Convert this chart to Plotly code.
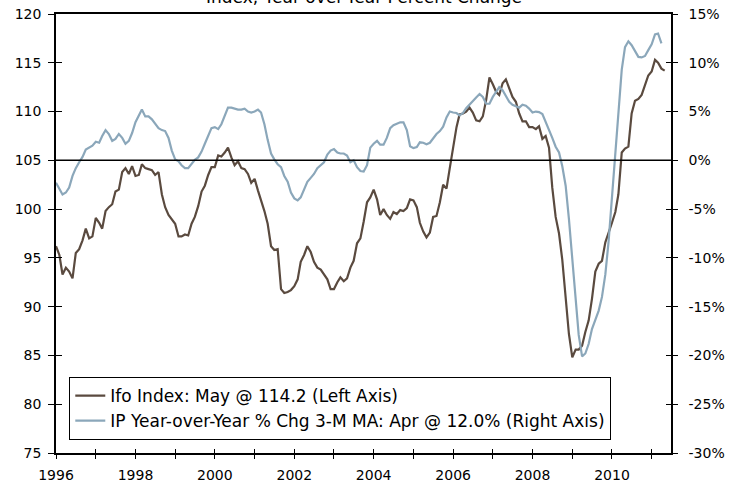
import pandas as pd
import plotly.graph_objects as go

# Monthly series, Jan 1996 onwards
ifo_index = [
    96.2, 95.3, 93.3, 94.0, 93.6, 92.9, 95.5, 95.9, 96.8, 98.0, 97.0, 97.2,   # 1996
    99.1, 98.6, 98.0, 99.8, 100.2, 100.5, 101.8, 102.0, 103.8, 104.2, 103.6, 104.4,  # 1997
    103.4, 103.5, 104.6, 104.2, 104.1, 104.0, 103.5, 103.8, 101.5, 100.2, 99.4, 99.0,  # 1998
    98.5, 97.2, 97.2, 97.4, 97.3, 98.5, 99.2, 100.3, 101.8, 102.4, 103.5, 104.3,  # 1999
    104.3, 105.5, 105.4, 105.8, 106.3, 105.3, 104.5, 104.9, 104.2, 104.1, 103.6, 102.7,  # 2000
    103.1, 101.9, 101.0, 99.8, 98.5, 96.2, 95.8, 95.9, 91.8, 91.4, 91.5, 91.7,  # 2001
    92.1, 92.8, 94.6, 95.3, 96.2, 95.6, 94.6, 94.0, 93.8, 93.3, 92.8, 91.8,  # 2002
    91.8, 92.5, 93.0, 92.6, 92.9, 94.0, 94.7, 96.5, 97.0, 98.7, 100.7, 101.2,  # 2003
    102.0, 101.0, 99.4, 100.0, 99.4, 99.0, 99.7, 99.5, 99.9, 99.8, 100.1, 101.0,  # 2004
    100.9, 100.2, 98.6, 97.7, 97.1, 97.6, 99.2, 99.3, 100.7, 102.5, 102.1, 104.2,  # 2005
    106.4, 108.4, 109.7, 109.8, 110.0, 110.4, 109.9, 109.1, 109.0, 109.5, 111.2, 113.5,  # 2006
    112.8, 112.0, 111.7, 112.9, 113.3, 112.3, 111.5, 111.0, 109.8, 109.0, 109.0, 108.4,  # 2007
    108.4, 108.2, 108.5, 107.2, 107.5, 106.3, 102.2, 99.2, 97.5, 94.8, 90.8, 87.2,  # 2008
    84.8, 85.6, 85.6, 86.0, 87.4, 88.6, 90.8, 93.6, 94.4, 94.7, 96.6, 97.5,  # 2009
    98.6, 99.7, 101.5, 105.8, 106.2, 106.4, 109.8, 111.1, 111.3, 111.7, 112.8, 113.7,  # 2010
    114.1, 115.3, 115.0, 114.4, 114.2,  # 2011
]

ip_yoy_3mma = [
    -2.3, -3.0, -3.5, -3.3, -2.8, -1.6, -0.8, -0.2, 0.35, 1.1, 1.35, 1.5,  # 1996
    1.9, 1.8, 2.5, 3.1, 2.7, 2.0, 2.2, 2.7, 2.3, 1.7, 2.0, 2.8,  # 1997
    3.9, 4.6, 5.2, 4.5, 4.5, 4.2, 3.8, 3.3, 3.1, 3.0, 2.3, 1.0,  # 1998
    0.1, -0.1, -0.5, -0.8, -0.8, -0.3, 0.05, 0.3, 0.9, 1.7, 2.6, 3.3,  # 1999
    3.4, 3.2, 3.7, 4.6, 5.4, 5.4, 5.3, 5.2, 5.2, 5.3, 5.0, 4.9,  # 2000
    5.0, 5.2, 4.9, 3.7, 2.1, 0.7, 0.1, -0.4, -0.7, -1.6, -2.2, -3.3,  # 2001
    -3.9, -4.1, -3.8, -2.9, -2.2, -1.8, -1.4, -0.8, -0.5, -0.2, 0.6, 1.0,  # 2002
    1.15, 0.8, 0.7, 0.7, 0.5, -0.2, 0.0, -0.7, -1.1, -1.15, -0.5, 1.3,  # 2003
    1.7, 2.0, 1.6, 1.6, 2.3, 3.3, 3.6, 3.75, 3.9, 3.9, 3.1, 1.45,  # 2004
    1.25, 1.35, 1.85, 1.8, 1.65, 1.8, 2.25, 2.7, 3.0, 3.45, 4.4, 5.0,  # 2005
    4.9, 4.85, 4.6, 4.85, 5.35, 5.75, 6.1, 6.45, 6.8, 6.5, 5.8, 5.8,  # 2006
    6.5, 7.1, 7.5, 7.2, 6.6, 6.0, 5.7, 5.55, 5.4, 5.7, 5.6, 5.3,  # 2007
    4.9, 5.0, 4.95, 4.75, 4.0, 3.2, 2.3, 1.4, 0.8, -0.6, -2.6, -6.0,  # 2008
    -10.0, -14.2, -17.9, -20.1, -19.8, -18.8, -17.3, -16.35, -15.4, -14.0, -11.7, -8.3,  # 2009
    -3.9, 0.3, 5.0, 9.3, 11.6, 12.2, 11.8, 11.2, 10.6, 10.55, 10.7, 11.3,  # 2010
    11.9, 12.9, 13.0, 12.0,  # 2011
]

ifo_dates = pd.date_range("1996-01-01", periods=len(ifo_index), freq="MS")
ip_dates = pd.date_range("1996-01-01", periods=len(ip_yoy_3mma), freq="MS")

left_ticks = [75, 80, 85, 90, 95, 100, 105, 110, 115, 120]
right_ticks = [-30, -25, -20, -15, -10, -5, 0, 5, 10, 15]
right_tick_labels = ["-30%", "-25%", "-20%", "-15%", "-10%", "-5%", "0%", "5%", "10%", "15%"]
year_ticks = [1996, 1997, 1998, 1999, 2000, 2001, 2002, 2003, 2004, 2005,
              2006, 2007, 2008, 2009, 2010, 2011]
year_labels = [str(y) if y % 2 == 0 else "" for y in year_ticks]
year_tick_dates = [f"{y}-01-01" for y in year_ticks]

baseline_index = 105

X_RANGE = ["1996-01-01", "2011-06-28"]
LEFT_RANGE = [75, 120]
RIGHT_RANGE = [-30, 15]

FONT = "DejaVu Sans"
BROWN = "#5a4a3f"
STEEL = "#8ba7ba"

fig = go.Figure()

fig.add_trace(go.Scatter(
    x=ifo_dates, y=ifo_index, mode="lines",
    name="Ifo Index: May @ 114.2 (Left Axis)",
    line=dict(color=BROWN, width=2.2),
    xaxis="x", yaxis="y",
))
fig.add_trace(go.Scatter(
    x=ip_dates, y=ip_yoy_3mma, mode="lines",
    name="IP Year-over-Year % Chg 3-M MA: Apr @ 12.0% (Right Axis)",
    line=dict(color=STEEL, width=2.2),
    xaxis="x", yaxis="y2",
))

# Reference line at the index baseline (0% on the right scale)
fig.add_hline(y=baseline_index, line=dict(color="black", width=1.5), layer="above")

tick_font = dict(family=FONT, size=14, color="black")

fig.update_layout(
    width=743, height=483,
    margin=dict(l=56, r=72, t=14, b=30, autoexpand=False),
    paper_bgcolor="white", plot_bgcolor="white",
    font=dict(family=FONT, size=14, color="black"),
    showlegend=True,
    legend=dict(
        x=0.0216, y=0.0296, xanchor="left", yanchor="bottom",
        bgcolor="white", bordercolor="black", borderwidth=1,
        font=dict(family=FONT, size=17, color="black"),
        tracegroupgap=0, itemwidth=30,
    ),
    xaxis=dict(
        type="date", range=X_RANGE, automargin=False,
        tickmode="array", tickvals=year_tick_dates, ticktext=year_labels,
        ticks="outside", ticklen=4, tickwidth=1, tickcolor="black",
        showline=True, linecolor="black", linewidth=1.5, mirror=True,
        showgrid=False, zeroline=False, tickfont=tick_font,
        ticklabelstandoff=4,
    ),
    xaxis2=dict(
        type="date", range=X_RANGE, overlaying="x", anchor="y", automargin=False,
        tickmode="array", tickvals=year_tick_dates,
        ticks="inside", ticklen=4, tickwidth=1, tickcolor="black",
        showticklabels=False, showline=False, showgrid=False, zeroline=False,
    ),
    yaxis=dict(
        range=LEFT_RANGE, tickmode="array", tickvals=left_ticks, automargin=False,
        ticks="outside", ticklen=6, tickwidth=1, tickcolor="black",
        showline=True, linecolor="black", linewidth=1.5,
        showgrid=False, zeroline=False, tickfont=tick_font,
        ticklabelstandoff=4,
    ),
    yaxis2=dict(
        range=RIGHT_RANGE, overlaying="y", side="right", anchor="x", automargin=False,
        tickmode="array", tickvals=right_ticks, ticktext=right_tick_labels,
        ticks="outside", ticklen=5, tickwidth=1, tickcolor="black",
        showline=True, linecolor="black", linewidth=1.5,
        showgrid=False, zeroline=False, tickfont=tick_font,
        ticklabelstandoff=8,
    ),
    yaxis3=dict(
        range=LEFT_RANGE, overlaying="y", side="left", anchor="x", automargin=False,
        tickmode="array", tickvals=left_ticks,
        ticks="inside", ticklen=6, tickwidth=1, tickcolor="black",
        showticklabels=False, showline=False, showgrid=False, zeroline=False,
    ),
    yaxis4=dict(
        range=RIGHT_RANGE, overlaying="y", side="right", anchor="x", automargin=False,
        tickmode="array", tickvals=right_ticks,
        ticks="inside", ticklen=5, tickwidth=1, tickcolor="black",
        showticklabels=False, showline=False, showgrid=False, zeroline=False,
    ),
)

# Empty helper traces so the inner-tick axes are laid out
fig.add_trace(go.Scatter(x=[], y=[], xaxis="x2", yaxis="y", showlegend=False, hoverinfo="skip"))
fig.add_trace(go.Scatter(x=[], y=[], xaxis="x", yaxis="y3", showlegend=False, hoverinfo="skip"))
fig.add_trace(go.Scatter(x=[], y=[], xaxis="x", yaxis="y4", showlegend=False, hoverinfo="skip"))

fig.add_annotation(
    text="Index; Year-over-Year Percent Change",
    xref="paper", yref="paper", x=0.5, y=1, xanchor="center", yanchor="bottom",
    yshift=5, showarrow=False, font=dict(family=FONT, size=17, color="black"),
)

fig.write_html("out.html")
